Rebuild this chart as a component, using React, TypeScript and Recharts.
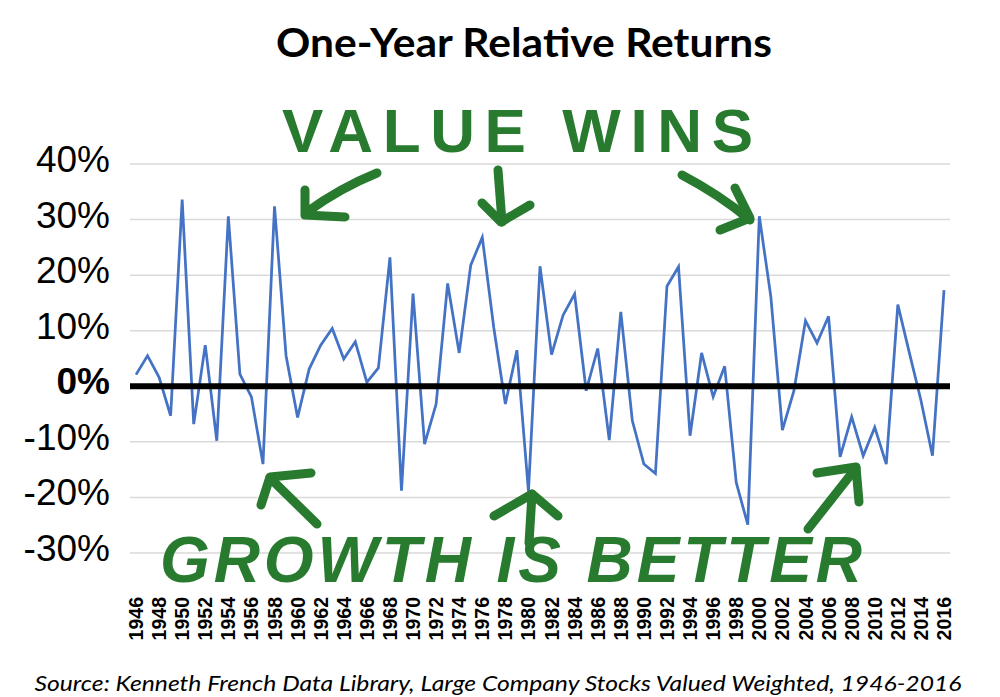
import React from 'react';
import { LineChart, Line, XAxis, YAxis, CartesianGrid, ReferenceLine } from 'recharts';

// Years on the category axis
const years = [
  1946, 1947, 1948, 1949, 1950, 1951, 1952, 1953, 1954, 1955,
  1956, 1957, 1958, 1959, 1960, 1961, 1962, 1963, 1964, 1965,
  1966, 1967, 1968, 1969, 1970, 1971, 1972, 1973, 1974, 1975,
  1976, 1977, 1978, 1979, 1980, 1981, 1982, 1983, 1984, 1985,
  1986, 1987, 1988, 1989, 1990, 1991, 1992, 1993, 1994, 1995,
  1996, 1997, 1998, 1999, 2000, 2001, 2002, 2003, 2004, 2005,
  2006, 2007, 2008, 2009, 2010, 2011, 2012, 2013, 2014, 2015,
  2016,
];

// Value minus growth, one-year return (%)
const relativeReturn = [
  2.1, 5.5, 1.6, -5.3, 33.6, -6.8, 7.4, -9.8, 30.6, 2.2,
  -1.9, -14.0, 32.4, 5.5, -5.6, 3.1, 7.4, 10.4, 4.9, 8.0,
  0.7, 3.3, 23.2, -18.8, 16.7, -10.4, -3.2, 18.5, 6.0, 21.8,
  26.8, 10.5, -3.2, 6.5, -18.9, 21.6, 5.7, 12.8, 16.6, -0.8,
  6.8, -9.7, 13.4, -6.2, -14.0, -15.7, 18.0, 21.5, -8.9, 6.0,
  -1.9, 3.6, -17.3, -24.9, 30.6, 16.1, -7.9, -0.8, 11.8, 7.8,
  12.6, -12.7, -5.5, -12.5, -7.4, -14.0, 14.7, 6.0, -2.5, -12.5,
  17.3,
];

const yTicks = [-30, -20, -10, 0, 10, 20, 30, 40];

const data = years.map((year, i) => ({ year, value: relativeReturn[i] }));

const GREEN = '#277a2e';

const YTick = ({ y, payload }: any) => (
  <text
    x={110}
    y={y}
    dy={8}
    textAnchor="end"
    fontSize={37}
    fontFamily="Liberation Sans, Arial, sans-serif"
    fontWeight={payload.value === 0 ? 700 : 400}
    fill="#000"
  >
    {payload.value}%
  </text>
);

const XTick = ({ x, payload }: any) => (
  <g transform={`translate(${x},597)`}>
    <text
      transform="rotate(-90)"
      textAnchor="end"
      dy="0.36em"
      fontSize={19.5}
      fontWeight={700}
      fontFamily="Liberation Sans, Arial, sans-serif"
      fill="#000"
    >
      {payload.value}
    </text>
  </g>
);

const arrows = [
  'M377,173 Q340,188 307,212', 'M305,190 L305,215 L345,217',
  'M498,170 L502,222', 'M482,203 L501,222 L530,205',
  'M682,175 Q720,195 750,220', 'M735,188 L750,218 L720,230',
  'M317,524 L270,478', 'M311,473 L270,477 L261,505',
  'M529,543 L532,494', 'M494,516 L532,494 L558,516',
  'M808,529 L856,468', 'M817,473 L856,467 L859,502',
];

export default function App() {
  return (
    <div style={{ position: 'absolute', left: 0, top: 0, width: 1000, height: 697, background: '#fff' }}>
      <LineChart width={1000} height={697} data={data} margin={{ top: 164, right: 50, bottom: 0, left: 0 }}>
        <CartesianGrid vertical={false} stroke="#d9d9d9" strokeWidth={1.5} />
        <XAxis
          dataKey="year"
          interval={1}
          height={144}
          tickLine={false}
          axisLine={false}
          tickSize={0}
          padding={{ left: 6, right: 6 }}
          tick={<XTick />}
        />
        <YAxis
          domain={[-30, 40]}
          ticks={yTicks}
          width={130}
          tickLine={false}
          axisLine={false}
          tick={<YTick />}
        />
        <Line type="linear" dataKey="value" stroke="#4472C4" strokeWidth={2.75} dot={false} isAnimationActive={false} />
        <ReferenceLine y={0} stroke="#000" strokeWidth={6} />
      </LineChart>
      <svg width={1000} height={697} style={{ position: 'absolute', left: 0, top: 0, pointerEvents: 'none' }}>
        <text x={524} y={57} textAnchor="middle" fontFamily="Lato, sans-serif" fontWeight={700} fontSize={40}
          textLength={496} lengthAdjust="spacingAndGlyphs" fill="#000">
          One-Year Relative Returns
        </text>
        <text x={498} y={691} textAnchor="middle" fontFamily="Lato, sans-serif" fontStyle="italic" fontSize={22}
          textLength={927} lengthAdjust="spacingAndGlyphs" fill="#000">
          Source: Kenneth French Data Library, Large Company Stocks Valued Weighted, 1946-2016
        </text>
        <text x={282} y={152} fontFamily="Liberation Sans, Arial, sans-serif" fontWeight={700} fontSize={62}
          textLength={471} lengthAdjust="spacing" fill={GREEN}>
          VALUE WINS
        </text>
        <text x={160} y={582} fontFamily="Liberation Sans, Arial, sans-serif" fontWeight={700} fontStyle="italic"
          fontSize={64} textLength={702} lengthAdjust="spacing" fill={GREEN}>
          GROWTH IS BETTER
        </text>
        {arrows.map((d, i) => (
          <path key={i} d={d} fill="none" stroke={GREEN} strokeWidth={9} strokeLinecap="round" strokeLinejoin="round" />
        ))}
      </svg>
    </div>
  );
}
